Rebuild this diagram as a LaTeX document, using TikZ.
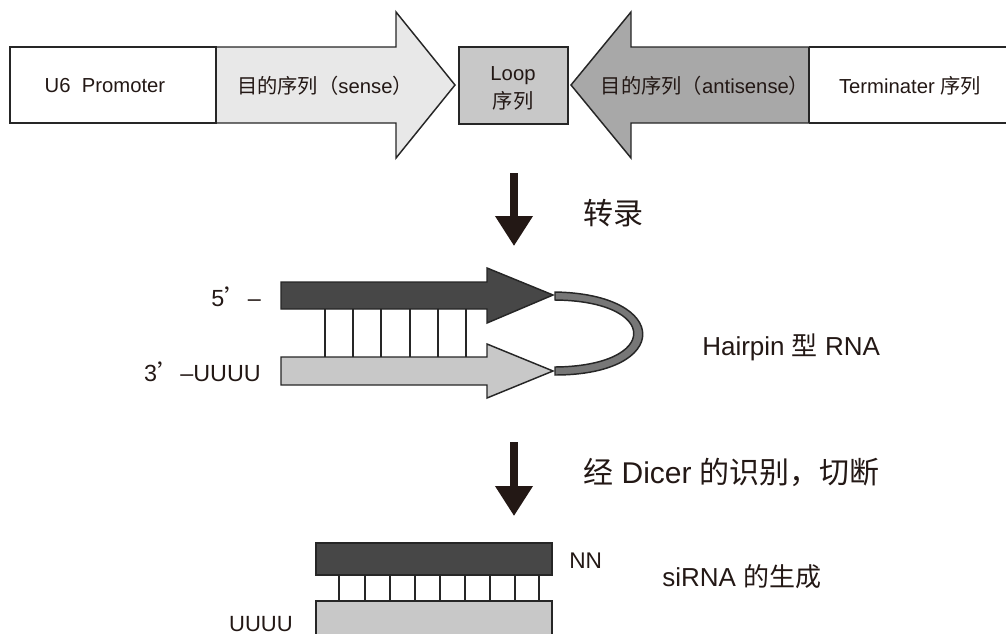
\documentclass[tikz,border=0pt]{standalone}
\usepackage{fontspec}
\setmainfont{Liberation Sans}
\newfontfamily\cjk{Noto Sans CJK SC}
\usetikzlibrary{arrows.meta}
\definecolor{senseC}{HTML}{E8E8E8}
\definecolor{loopC}{HTML}{C8C8C8}
\definecolor{antiC}{HTML}{A8A8A8}
\definecolor{darkC}{HTML}{474747}
\definecolor{lightC}{HTML}{C8C8C8}
\definecolor{bandC}{HTML}{777777}
\definecolor{arrC}{HTML}{231815}
\definecolor{txtC}{HTML}{231815}
\begin{document}
\begin{tikzpicture}[x=0.75pt,y=-0.75pt,
  outl/.style={draw=black!85,line width=1.1pt,line join=miter},
  rung/.style={draw=black!85,line width=1.1pt},
  toplabel/.style={font=\fontsize{15.2}{17}\selectfont,text=txtC,inner sep=0pt},
  midlabel/.style={font=\fontsize{17.5}{19}\selectfont,text=txtC,inner sep=0pt},
  sidelabel/.style={font=\fontsize{19.5}{21}\selectfont,text=txtC,inner sep=0pt,anchor=west},
  biglabel/.style={font=\fontsize{22.5}{24}\selectfont,text=txtC,inner sep=0pt,anchor=west},
  downarrow/.style={draw=arrC,line width=5.3pt,-{Triangle[length=22.5pt,width=27pt]}}]
\useasboundingbox (0,0) rectangle (1006,633);
% top construct
\draw[outl,fill=senseC] (216,47) -- (396,47) -- (396,12) -- (455,85) -- (396,158) -- (396,123) -- (216,123) -- cycle;
\draw[outl,fill=white] (10,47) rectangle (216,123);
\draw[outl,fill=loopC] (459,47) rectangle (568,124);
\draw[outl,fill=antiC] (809,47) -- (631,47) -- (631,12) -- (571,85) -- (631,158) -- (631,123) -- (809,123) -- cycle;
\draw[outl] (809,47) -- (1010,47) (809,123) -- (1010,123);
\draw[outl] (809,47) -- (809,123);
\node[toplabel] (u6) at (105,86) {U6\ \ Promoter};
\node[toplabel] (sense) at (325,86) {{\cjk 目的序列（}sense{\cjk ）}};
\node[toplabel,align=center] (loop) at (513,88) {Loop\\[4pt]{\cjk 序列}};
\node[toplabel] (anti) at (705,86) {{\cjk 目的序列（}antisense{\cjk ）}};
\node[toplabel] (term) at (910,86) {Terminater {\cjk 序列}};
% first down arrow
\coordinate (a1s) at (514,173);
\coordinate (a1e) at (514,246);
\draw[downarrow] (a1s) -- (a1e);
\node[biglabel] (tr) at (583,213) {\cjk 转录};
% hairpin
\draw[outl,fill=darkC] (281,282) -- (487,282) -- (487,268) -- (553,295) -- (487,323) -- (487,309) -- (281,309) -- cycle;
\draw[outl,fill=lightC] (281,357) -- (487,357) -- (487,344) -- (553,371) -- (487,398) -- (487,385) -- (281,385) -- cycle;
\foreach \x in {325,353,381,410,438,466}{\draw[rung] (\x,309) -- (\x,357);}
\draw[outl,fill=bandC] (555,292) .. controls (672,294) and (672,375) .. (555,375) -- (555,367) .. controls (660,366) and (660,301) .. (555,300) -- cycle;
\node[midlabel,anchor=east] (five) at (261,297) {5{\cjk ’}--};
\node[midlabel,anchor=east] (three) at (261,372) {3{\cjk ’}--UUUU};
\node[sidelabel] (hp) at (702,347) {Hairpin {\cjk 型} RNA};
% second down arrow
\coordinate (a2s) at (514,442);
\coordinate (a2e) at (514,516);
\draw[downarrow] (a2s) -- (a2e);
\node[biglabel] (dc) at (583,472) {{\cjk 经} Dicer {\cjk 的识别，切断}};
% siRNA
\draw[outl,fill=darkC] (316,543) rectangle (552,575);
\foreach \x in {339,365,390,415,440,465,490,515,539}{\draw[rung] (\x,575) -- (\x,601);}
\draw[outl,fill=lightC] (316,601) rectangle (552,645);
\node[midlabel,anchor=west,font=\fontsize{17}{19}\selectfont] (nn) at (569,561) {NN};
\node[midlabel,anchor=base east,font=\fontsize{16.5}{18}\selectfont] (uu) at (293,631) {UUUU};
\node[sidelabel] (si) at (662,577) {siRNA {\cjk 的生成}};
\end{tikzpicture}
\end{document}
